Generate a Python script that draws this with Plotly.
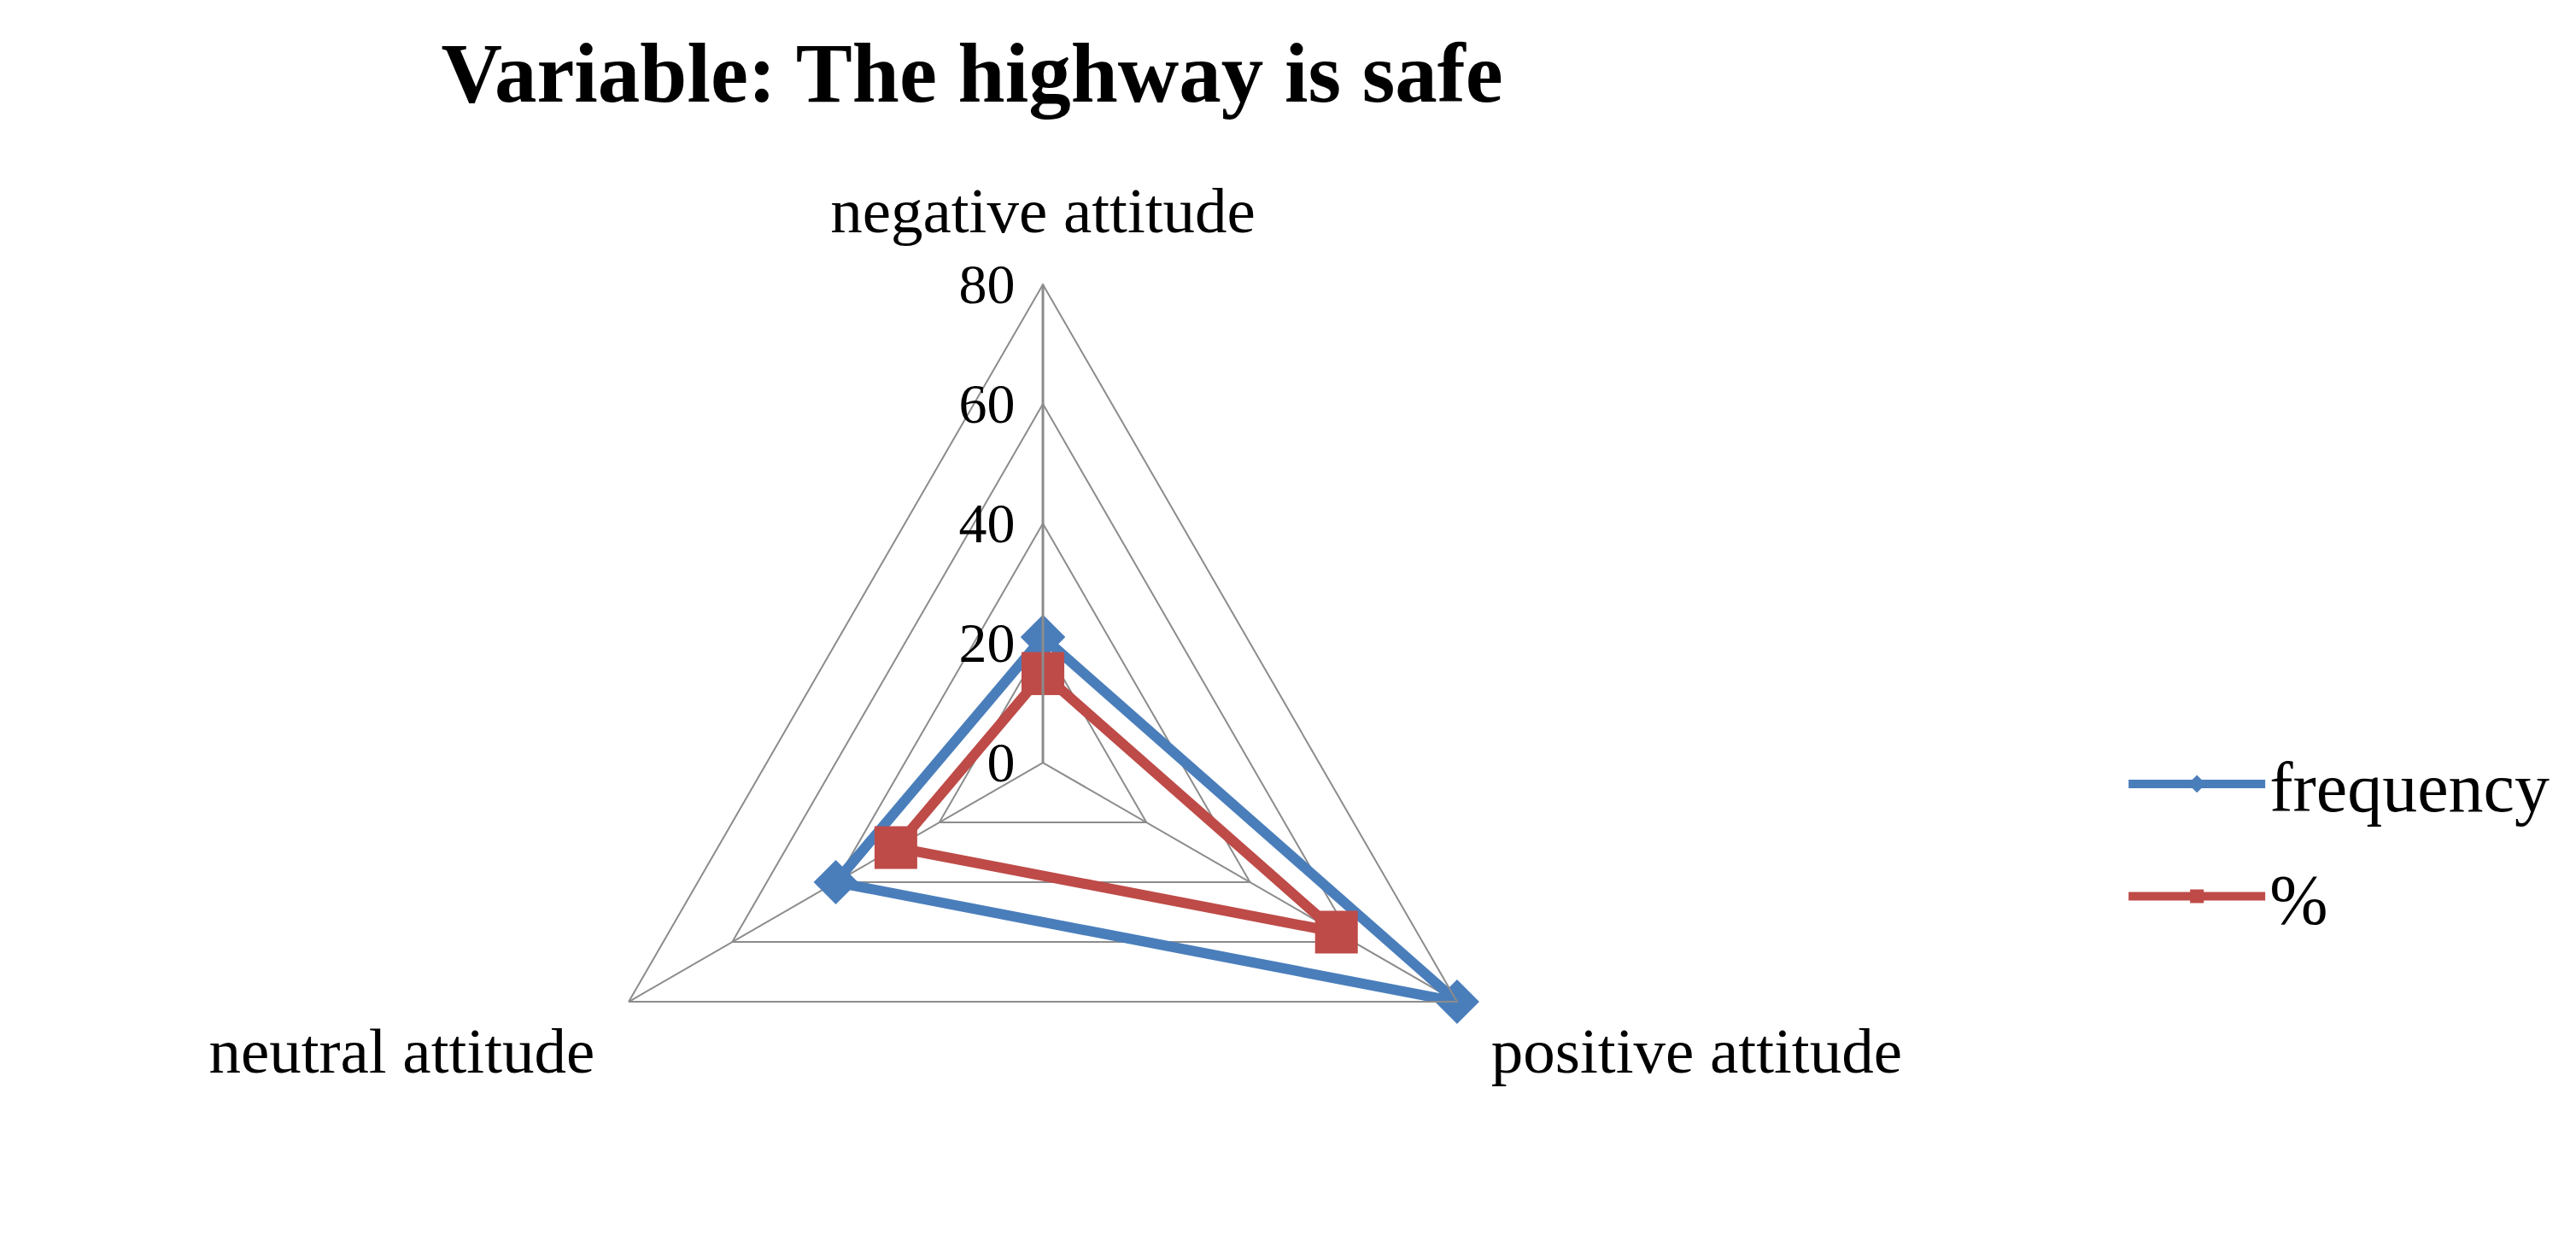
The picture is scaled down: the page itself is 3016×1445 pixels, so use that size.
import plotly.graph_objects as go

# radar axes (clockwise from the top) and the two series
categories = ['negative attitude', 'positive attitude', 'neutral attitude']
frequency = [21, 80, 40]
percent = [14.9, 56.7, 28.4]
radial_ticks = [0, 20, 40, 60, 80]

BLUE = '#4A7EBB'
RED = '#BE4B48'
GRID = '#8C8C8C'
SERIF = 'Liberation Serif, Times New Roman, serif'

fig = go.Figure()

# close the polygons by repeating the first point
fig.add_trace(go.Scatterpolar(
    r=frequency + frequency[:1],
    theta=categories + categories[:1],
    mode='lines+markers',
    name='frequency',
    legendgroup='a',
    line=dict(color=BLUE, width=12),
    marker=dict(symbol='diamond', size=40, color=BLUE),
))
fig.add_trace(go.Scatterpolar(
    r=percent + percent[:1],
    theta=categories + categories[:1],
    mode='lines+markers',
    name='%',
    legendgroup='b',
    line=dict(color=RED, width=12),
    marker=dict(symbol='square', size=50, color=RED),
))

fig.update_layout(
    width=3016,
    height=1445,
    paper_bgcolor='white',
    margin=dict(l=0, r=0, t=0, b=0),
    font=dict(family=SERIF, color='black'),
    title=dict(
        text='<b>Variable: The highway is safe</b>',
        x=0.3747, xanchor='center',
        y=0.947, yanchor='middle',
        font=dict(family=SERIF, size=99, color='black'),
    ),
    polar=dict(
        domain=dict(x=[0.2165, 0.5879], y=[0.0, 0.775]),
        gridshape='linear',
        bgcolor='white',
        radialaxis=dict(
            range=[0, 80],
            tickvals=radial_ticks,
            angle=90,
            tickangle=90,
            side='counterclockwise',
            showline=True, linecolor=GRID, linewidth=3,
            gridcolor=GRID, gridwidth=2,
            ticks='outside', ticklen=8, tickcolor='rgba(0,0,0,0)',
            tickfont=dict(family=SERIF, size=66, color='black'),
        ),
        angularaxis=dict(
            rotation=90,
            direction='clockwise',
            showline=True, linecolor=GRID, linewidth=2,
            gridcolor=GRID, gridwidth=2,
            # invisible ticks just to push the category labels outwards
            ticks='outside', ticklen=30, tickcolor='rgba(0,0,0,0)',
            tickfont=dict(family=SERIF, size=75, color='black'),
        ),
    ),
    legend=dict(
        x=0.822, xanchor='left',
        y=0.3245, yanchor='middle',
        font=dict(family=SERIF, size=82, color='black'),
        itemwidth=160,
        traceorder='grouped',
        tracegroupgap=22,
        bgcolor='rgba(0,0,0,0)',
    ),
)

fig.write_html('out.html')
